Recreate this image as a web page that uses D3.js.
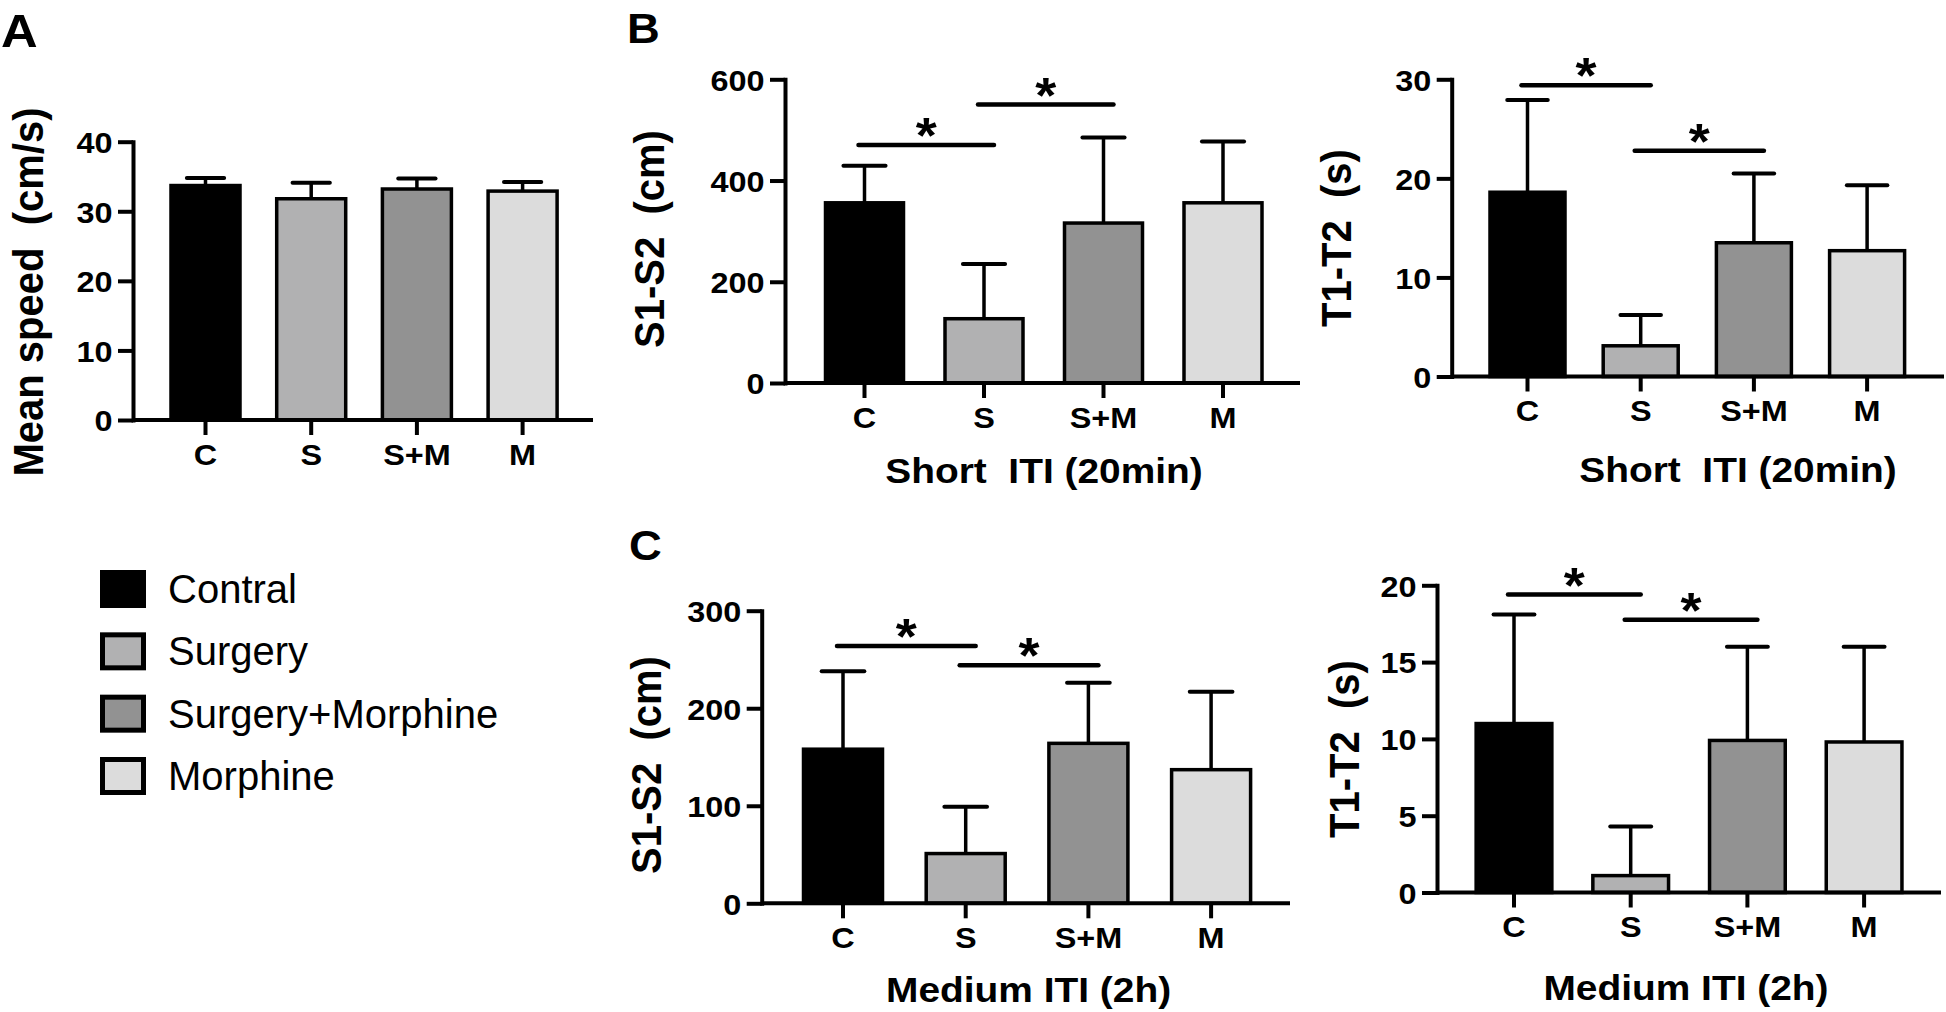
<!DOCTYPE html>
<html>
<head>
<meta charset="utf-8">
<script src="https://cdn.jsdelivr.net/npm/d3@7"></script>
<style>
  html, body { margin: 0; padding: 0; background: #fff; }
  svg { display: block; }
  text { font-family: "Liberation Sans", Arial, Helvetica, sans-serif; }
</style>
</head>
<body>
<svg id="fig" width="1946" height="1012"></svg>
<script>
// groups on every x axis
var groups = ["C", "S", "S+M", "M"];
var legendLabels = ["Contral", "Surgery", "Surgery+Morphine", "Morphine"];

// A: mean speed (cm/s), mean and upper SD
var speedMean = [33.7, 31.8, 33.2, 32.9];
var speedSd = [1.1, 2.3, 1.5, 1.3];
var speedTicks = [0, 10, 20, 30, 40];

// B: short ITI (20min)
var shortDistMean = [356, 127, 316, 356];
var shortDistSd = [73, 108, 169, 121];
var shortDistTicks = [0, 200, 400, 600];
var shortDistSig = [[0, 1, 470], [1, 2, 550]];

var shortTimeMean = [18.6, 3.1, 13.5, 12.7];
var shortTimeSd = [9.3, 3.1, 7.0, 6.6];
var shortTimeTicks = [0, 10, 20, 30];
var shortTimeSig = [[0, 1, 29.4], [1, 2, 22.8]];

// C: medium ITI (2h)
var medDistMean = [158, 51, 164, 137];
var medDistSd = [80, 48, 62, 80];
var medDistTicks = [0, 100, 200, 300];
var medDistSig = [[0, 1, 263.7], [1, 2, 244]];

var medTimeMean = [11.0, 1.1, 9.9, 9.8];
var medTimeSd = [7.1, 3.2, 6.1, 6.2];
var medTimeTicks = [0, 5, 10, 15, 20];
var medTimeSig = [[0, 1, 19.4], [1, 2, 17.75]];

var fills = ["#000000", "#b1b1b2", "#929292", "#dcdcdc"];
var sx = 1.08; // figure text is a little wider than Arial Bold

var svg = d3.select("#fig");

// text with the slight horizontal stretch
function label(g, x, y, str, size, opts) {
  opts = opts || {};
  var t = "translate(" + x + "," + y + ") scale(" + sx + ",1)";
  if (opts.rotate) t += " rotate(-90)";
  return g.append("text")
    .attr("transform", t)
    .attr("dy", opts.dy || 0)
    .attr("text-anchor", opts.anchor || "start")
    .attr("font-size", size)
    .attr("font-weight", "bold")
    .style("white-space", "pre")
    .text(str);
}

function drawPanel(p) {
  var g = svg.append("g");

  var y = d3.scaleLinear()
    .domain([0, p.max])
    .range([p.y0, p.yTop]);

  var pad = 1 - p.bw / p.step;
  var x = d3.scaleBand()
    .domain(groups)
    .range([p.first - p.step / 2, p.first + (groups.length - 0.5) * p.step])
    .paddingInner(pad)
    .paddingOuter(pad / 2);
  var bw = x.bandwidth();

  var rows = groups.map(function (k, i) {
    return { k: k, i: i, m: p.mean[i], s: p.sd[i] };
  });

  // bars
  g.selectAll("rect.bar")
    .data(rows)
    .join("rect")
    .attr("class", "bar")
    .attr("x", function (d) { return x(d.k); })
    .attr("y", function (d) { return y(d.m); })
    .attr("width", bw)
    .attr("height", function (d) { return y(0) - y(d.m); })
    .attr("fill", function (d) { return fills[d.i]; })
    .attr("stroke", "#000")
    .attr("stroke-width", 3.5);

  // error bars (upper only)
  g.selectAll("line.err")
    .data(rows)
    .join("line")
    .attr("class", "err")
    .attr("x1", function (d) { return x(d.k) + bw / 2; })
    .attr("x2", function (d) { return x(d.k) + bw / 2; })
    .attr("y1", function (d) { return y(d.m); })
    .attr("y2", function (d) { return y(d.m + d.s); })
    .attr("stroke", "#000")
    .attr("stroke-width", 3.5);

  g.selectAll("line.cap")
    .data(rows)
    .join("line")
    .attr("class", "cap")
    .attr("x1", function (d) { return x(d.k) + bw / 2 - bw * 0.27; })
    .attr("x2", function (d) { return x(d.k) + bw / 2 + bw * 0.27; })
    .attr("y1", function (d) { return y(d.m + d.s); })
    .attr("y2", function (d) { return y(d.m + d.s); })
    .attr("stroke", "#000")
    .attr("stroke-width", 4)
    .attr("stroke-linecap", "round");

  // y axis
  var ya = g.append("g")
    .attr("transform", "translate(" + p.left + ",0)")
    .call(d3.axisLeft(y).tickValues(p.ticks).tickSize(15).tickPadding(4).tickSizeOuter(0));
  ya.attr("font-size", 30).attr("font-weight", "bold");
  ya.select(".domain").attr("stroke-width", 4).attr("stroke-linecap", "square");
  ya.selectAll(".tick line").attr("stroke-width", 4);
  ya.selectAll(".tick text").attr("dy", "0.36em").attr("transform", "scale(" + sx + ",1)");

  // x axis, line runs from the y axis to the panel edge
  var xa = g.append("g")
    .attr("transform", "translate(0," + p.y0 + ")")
    .call(d3.axisBottom(x).tickSize(15).tickSizeOuter(0));
  xa.attr("font-size", 30).attr("font-weight", "bold");
  xa.select(".domain").attr("d", "M" + p.left + ",0H" + p.axisEnd).attr("stroke-width", 4);
  xa.selectAll(".tick line").attr("stroke-width", 4);
  xa.selectAll(".tick text").attr("y", 45).attr("dy", 0).attr("transform", "scale(" + sx + ",1)");

  // significance lines
  (p.sig || []).forEach(function (s) {
    var x1 = x(groups[s[0]]) + bw / 2 - 6;
    var x2 = x(groups[s[1]]) + bw / 2 + 10;
    g.append("line")
      .attr("x1", x1).attr("x2", x2)
      .attr("y1", y(s[2])).attr("y2", y(s[2]))
      .attr("stroke", "#000")
      .attr("stroke-width", 4.5)
      .attr("stroke-linecap", "round");
    label(g, (x1 + x2) / 2, y(s[2]) - 20 + 28, "*", 50, { anchor: "middle" });
  });

  // titles
  label(g, p.yTitleX, p.yTitleY, p.yTitle, 40, { rotate: true, anchor: "middle", dy: "0.36em" });
  if (p.xTitle) label(g, p.xTitleX, p.xTitleY, p.xTitle, 36, { anchor: "middle" });
  if (p.letter) label(g, p.letterX, p.letterY, p.letter, p.letterSize);
}

var panels = [
  { mean: speedMean, sd: speedSd, ticks: speedTicks, max: 40,
    left: 133, y0: 420, yTop: 141.7, first: 205.5, step: 105.7, bw: 69, axisEnd: 593,
    yTitle: "Mean speed  (cm/s)", yTitleX: 27, yTitleY: 292,
    letter: "A", letterX: 1, letterY: 47, letterSize: 47 },
  { mean: shortDistMean, sd: shortDistSd, ticks: shortDistTicks, max: 600, sig: shortDistSig,
    left: 785, y0: 383, yTop: 79.3, first: 864.5, step: 119.5, bw: 78, axisEnd: 1300,
    yTitle: "S1-S2  (cm)", yTitleX: 648, yTitleY: 239,
    xTitle: "Short  ITI (20min)", xTitleX: 1044, xTitleY: 483,
    letter: "B", letterX: 627, letterY: 43, letterSize: 42 },
  { mean: shortTimeMean, sd: shortTimeSd, ticks: shortTimeTicks, max: 30, sig: shortTimeSig,
    left: 1451.7, y0: 376.5, yTop: 79.3, first: 1527.5, step: 113.2, bw: 75, axisEnd: 1944,
    yTitle: "T1-T2  (s)", yTitleX: 1335, yTitleY: 238,
    xTitle: "Short  ITI (20min)", xTitleX: 1738, xTitleY: 482 },
  { mean: medDistMean, sd: medDistSd, ticks: medDistTicks, max: 300, sig: medDistSig,
    left: 761.7, y0: 903.3, yTop: 610.7, first: 843, step: 122.7, bw: 79, axisEnd: 1290,
    yTitle: "S1-S2  (cm)", yTitleX: 645, yTitleY: 765,
    xTitle: "Medium ITI (2h)", xTitleX: 1028.6, xTitleY: 1001.7,
    letter: "C", letterX: 629, letterY: 560, letterSize: 42 },
  { mean: medTimeMean, sd: medTimeSd, ticks: medTimeTicks, max: 20, sig: medTimeSig,
    left: 1437, y0: 892.5, yTop: 585.3, first: 1514, step: 116.7, bw: 75.7, axisEnd: 1941,
    yTitle: "T1-T2  (s)", yTitleX: 1343, yTitleY: 749,
    xTitle: "Medium ITI (2h)", xTitleX: 1686, xTitleY: 1000 }
];

panels.forEach(drawPanel);

// legend
var leg = svg.append("g");
var ly = d3.scalePoint().domain(legendLabels).range([570, 757]);
leg.selectAll("rect")
  .data(legendLabels)
  .join("rect")
  .attr("x", 102.5)
  .attr("y", function (d) { return ly(d) + 2.5; })
  .attr("width", 41)
  .attr("height", 33)
  .attr("fill", function (d, i) { return fills[i]; })
  .attr("stroke", "#000")
  .attr("stroke-width", 5);
leg.selectAll("text")
  .data(legendLabels)
  .join("text")
  .attr("x", 168)
  .attr("y", function (d) { return ly(d) + 33; })
  .attr("font-size", 40)
  .text(function (d) { return d; });
</script>
</body>
</html>
